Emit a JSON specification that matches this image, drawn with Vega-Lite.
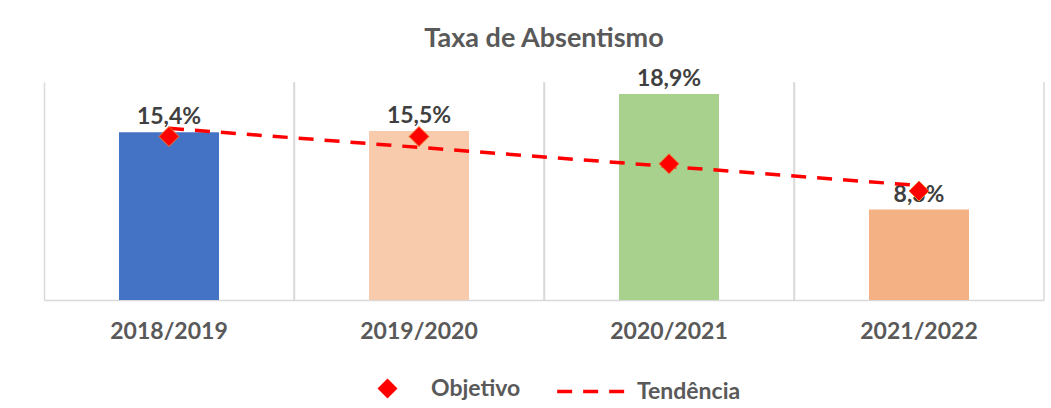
{
  "$schema": "https://vega.github.io/schema/vega-lite/v6.json",
  "width": 1000,
  "height": 218,
  "autosize": {"type": "none"},
  "padding": {"left": 44, "top": 82, "right": 7, "bottom": 108},
  "background": "white",
  "title": {
    "text": "Taxa de Absentismo",
    "font": "Lato",
    "fontSize": 27,
    "fontWeight": "bold",
    "color": "#595959",
    "anchor": "middle",
    "offset": 15
  },
  "config": {
    "view": {"stroke": null},
    "locale": {"number": {"decimal": ",", "thousands": ".", "grouping": [3], "currency": ["", " €"]}}
  },
  "data": {
    "values": [
      {"year": "2018/2019", "value": 0.154, "objetivo": 0.15, "trend": 0.1575},
      {"year": "2019/2020", "value": 0.155, "objetivo": 0.15, "trend": 0.14},
      {"year": "2020/2021", "value": 0.189, "objetivo": 0.125, "trend": 0.1225},
      {"year": "2021/2022", "value": 0.083, "objetivo": 0.10, "trend": 0.105}
    ]
  },
  "encoding": {
    "x": {
      "field": "year",
      "type": "nominal",
      "sort": null,
      "scale": {"paddingInner": 0, "paddingOuter": 0},
      "axis": {
        "title": null,
        "labelAngle": 0,
        "labelFont": "Lato",
        "labelFontSize": 23,
        "labelFontWeight": "bold",
        "labelColor": "#595959",
        "labelPadding": 20,
        "ticks": false,
        "domainColor": "#D9D9D9",
        "domainWidth": 1.5,
        "grid": true,
        "gridColor": "#D9D9D9",
        "gridWidth": 1.5,
        "bandPosition": 0
      }
    }
  },
  "layer": [
    {
      "mark": {"type": "rule", "color": "#D9D9D9", "strokeWidth": 1.5},
      "encoding": {"x": {"field": "year", "type": "nominal", "sort": null, "bandPosition": 1}}
    },
    {
      "mark": {"type": "bar", "width": {"band": 0.4}},
      "encoding": {
        "y": {"field": "value", "type": "quantitative", "scale": {"domain": [0, 0.2], "nice": false}, "axis": null},
        "color": {
          "field": "year",
          "type": "nominal",
          "scale": {"domain": ["2018/2019", "2019/2020", "2020/2021", "2021/2022"], "range": ["#4472C4", "#F8CBAD", "#A9D18E", "#F4B183"]},
          "legend": null
        }
      }
    },
    {
      "mark": {"type": "text", "baseline": "bottom", "dy": -3, "font": "Lato", "fontSize": 23, "fontWeight": "bold", "color": "#404040"},
      "encoding": {
        "y": {"field": "value", "type": "quantitative"},
        "text": {"field": "value", "type": "quantitative", "format": ".1%"}
      }
    },
    {
      "mark": {"type": "line", "color": "#FF0000", "strokeWidth": 3.5},
      "encoding": {
        "y": {"field": "trend", "type": "quantitative"},
        "strokeDash": {
          "datum": "Tendência",
          "scale": {"range": [[15, 11]]},
          "legend": {
            "orient": "none",
            "legendX": 511,
            "legendY": 272,
            "title": null,
            "padding": 0,
            "symbolType": "stroke",
            "symbolSize": 5000,
            "symbolStrokeColor": "#FF0000",
            "symbolStrokeWidth": 3.5,
            "labelFont": "Lato",
            "labelFontSize": 23,
            "labelFontWeight": "bold",
            "labelColor": "#595959",
            "labelOffset": 7
          }
        }
      }
    },
    {
      "mark": {"type": "point", "filled": true, "size": 400, "fill": "#FF0000", "stroke": "#ED7D31", "strokeWidth": 1, "opacity": 1},
      "encoding": {
        "y": {"field": "objetivo", "type": "quantitative"},
        "shape": {
          "datum": "Objetivo",
          "scale": {"range": ["diamond"]},
          "legend": {
            "orient": "none",
            "legendX": 332,
            "legendY": 295,
            "title": null,
            "padding": 0,
            "symbolSize": 400,
            "symbolFillColor": "#FF0000",
            "symbolStrokeColor": "#ED7D31",
            "symbolStrokeWidth": 1,
            "symbolOpacity": 1,
            "labelFont": "Lato",
            "labelFontSize": 23,
            "labelFontWeight": "bold",
            "labelColor": "#595959",
            "labelOffset": 32
          }
        }
      }
    }
  ]
}
